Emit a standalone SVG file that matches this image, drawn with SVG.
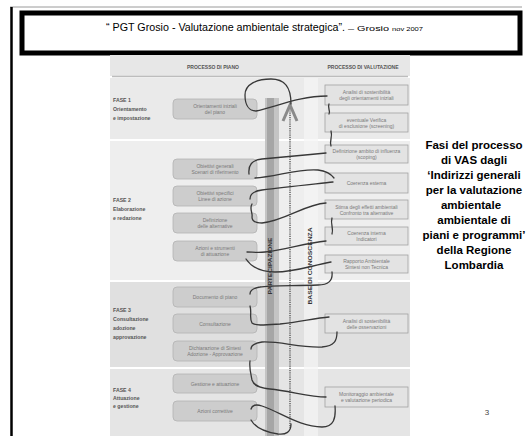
<svg xmlns="http://www.w3.org/2000/svg" width="528" height="436" viewBox="0 0 528 436">
<style>
.lb{fill:#cdcdcd;stroke:#b2b2b2;stroke-width:0.8}
.rb{fill:#e3e3e3;stroke:#a2a2a2;stroke-width:0.8}
.bt{font-family:"Liberation Sans",Arial,sans-serif;font-size:5px;fill:#7a7a7a;text-anchor:middle}
.ph{font-family:"Liberation Sans",Arial,sans-serif;font-size:5.2px;font-weight:bold;fill:#555}
.hd{font-family:"Liberation Sans",Arial,sans-serif;font-size:5px;font-weight:bold;fill:#555;text-anchor:middle}
.vt{font-family:"Liberation Sans",Arial,sans-serif;font-size:5px;font-weight:bold;fill:#333;text-anchor:middle}
.th{fill:none;stroke:#383838;stroke-width:1.3;stroke-linecap:round}
.side{font-family:"Liberation Sans",Arial,sans-serif;font-size:11.5px;font-weight:bold;fill:#000;text-anchor:middle}
</style>
<rect width="528" height="436" fill="#fff"/>
<!-- page frame -->
<line x1="10" y1="7" x2="522" y2="7" stroke="#9a9a9a" stroke-width="1"/>
<line x1="11.5" y1="7" x2="11.5" y2="436" stroke="#000" stroke-width="2.5"/>
<rect x="22" y="13" width="498" height="40" fill="#fff" stroke="#000" stroke-width="5"/>
<text x="106" y="31" font-family="'Liberation Sans',Arial,sans-serif" font-size="10" fill="#000" textLength="239" lengthAdjust="spacingAndGlyphs">“ PGT Grosio - Valutazione ambientale strategica”.</text>
<text x="348" y="31" font-family="'Liberation Sans',Arial,sans-serif" font-size="8" fill="#000" textLength="41" lengthAdjust="spacingAndGlyphs">– Grosio</text>
<text x="392" y="31" font-family="'Liberation Sans',Arial,sans-serif" font-size="5.5" fill="#000" textLength="31" lengthAdjust="spacingAndGlyphs">nov 2007</text>

<!-- picture background -->
<g id="background">
<rect x="110" y="55" width="300" height="21" fill="#e7e7e7"/>
<line x1="112" y1="76.5" x2="408" y2="76.5" stroke="#bdbdbd" stroke-width="1.5"/>
<rect x="110" y="78" width="300" height="61" fill="#eaeaea"/>
<rect x="110" y="141" width="300" height="139" fill="#eeeeee"/>
<rect x="110" y="282" width="300" height="85" fill="#e0e0e0"/>
<rect x="110" y="369" width="300" height="67" fill="#e5e5e5"/>
<rect x="304" y="78" width="14" height="358" fill="#f5f5f5" opacity="0.7"/>
<rect x="265" y="98" width="14" height="338" fill="#c4c4c4"/>
<rect x="267" y="98" width="7" height="338" fill="#a6a6a6"/>
<text class="hd" x="213" y="69">PROCESSO DI PIANO</text>
<text class="hd" x="363" y="69">PROCESSO DI VALUTAZIONE</text>
</g>

<!-- phase labels -->
<g id="fase1"><text class="ph" x="113" y="102">FASE 1</text><text class="ph" x="113" y="111">Orientamento</text><text class="ph" x="113" y="120">e impostazione</text></g>
<g id="fase2"><text class="ph" x="113" y="202">FASE 2</text><text class="ph" x="113" y="211">Elaborazione</text><text class="ph" x="113" y="220">e redazione</text></g>
<g id="fase3"><text class="ph" x="113" y="312">FASE 3</text><text class="ph" x="113" y="321">Consultazione</text><text class="ph" x="113" y="330">adozione</text><text class="ph" x="113" y="339">approvazione</text></g>
<g id="fase4"><text class="ph" x="113" y="392">FASE 4</text><text class="ph" x="113" y="400">Attuazione</text><text class="ph" x="113" y="408">e gestione</text></g>

<!-- central axes -->
<g id="partecipazione"><text class="vt" transform="translate(272.3,266) rotate(-90)" textLength="57" lengthAdjust="spacingAndGlyphs">PARTECIPAZIONE</text></g>
<g id="base-conoscenza">
<line x1="290" y1="106" x2="290" y2="428" stroke="#6a6a6a" stroke-width="1.6" stroke-dasharray="1.2 1"/>
<polyline points="283,121 290,105 297,121" fill="none" stroke="#8a8a8a" stroke-width="3"/>
<text class="vt" transform="translate(312.3,266) rotate(-90)" textLength="77" lengthAdjust="spacingAndGlyphs">BASE DI CONOSCENZA</text>
</g>

<!-- plan boxes -->
<g id="orientamenti"><rect class="lb" x="173" y="99" width="84" height="20" rx="4"/><text class="bt" x="215" y="108">Orientamenti iniziali</text><text class="bt" x="215" y="114">del piano</text></g>
<g id="obiettivi-generali"><rect class="lb" x="173" y="159" width="84" height="20" rx="4"/><text class="bt" x="215" y="168">Obiettivi generali</text><text class="bt" x="215" y="174">Scenari di riferimento</text></g>
<g id="obiettivi-specifici"><rect class="lb" x="173" y="186" width="84" height="20" rx="4"/><text class="bt" x="215" y="195">Obiettivi specifici</text><text class="bt" x="215" y="201">Linee di azione</text></g>
<g id="definizione"><rect class="lb" x="173" y="213" width="84" height="20" rx="4"/><text class="bt" x="215" y="222">Definizione</text><text class="bt" x="215" y="228">delle alternative</text></g>
<g id="azioni-strumenti"><rect class="lb" x="173" y="241" width="84" height="20" rx="4"/><text class="bt" x="215" y="250">Azioni e strumenti</text><text class="bt" x="215" y="256">di attuazione</text></g>
<g id="documento"><rect class="lb" x="173" y="287" width="84" height="20" rx="4"/><text class="bt" x="215" y="299">Documento di piano</text></g>
<g id="consultazione"><rect class="lb" x="173" y="314" width="84" height="19" rx="4"/><text class="bt" x="215" y="325.5">Consultazione</text></g>
<g id="dichiarazione"><rect class="lb" x="173" y="341" width="84" height="20" rx="4"/><text class="bt" x="215" y="350">Dichiarazione di Sintesi</text><text class="bt" x="215" y="356">Adozione - Approvazione</text></g>
<g id="gestione"><rect class="lb" x="173" y="374" width="84" height="19" rx="4"/><text class="bt" x="215" y="385.5">Gestione e attuazione</text></g>
<g id="azioni-correttive"><rect class="lb" x="173" y="401" width="84" height="20" rx="4"/><text class="bt" x="215" y="413">Azioni correttive</text></g>

<!-- evaluation boxes -->
<g id="analisi-orientamenti"><rect class="rb" x="325" y="85" width="83" height="20"/><text class="bt" x="366.5" y="94">Analisi di sostenibilità</text><text class="bt" x="366.5" y="100">degli orientamenti iniziali</text></g>
<g id="verifica"><rect class="rb" x="325" y="113" width="83" height="19"/><text class="bt" x="366.5" y="121.5">eventuale Verifica</text><text class="bt" x="366.5" y="127.5">di esclusione (screening)</text></g>
<g id="scoping"><rect class="rb" x="325" y="145" width="83" height="18"/><text class="bt" x="366.5" y="153">Definizione ambito di influenza</text><text class="bt" x="366.5" y="159">(scoping)</text></g>
<g id="coerenza-esterna"><rect class="rb" x="325" y="173" width="83" height="20"/><text class="bt" x="366.5" y="185">Coerenza esterna</text></g>
<g id="stima-effetti"><rect class="rb" x="325" y="200" width="83" height="19"/><text class="bt" x="366.5" y="208.5">Stima degli effetti ambientali</text><text class="bt" x="366.5" y="214.5">Confronto tra alternative</text></g>
<g id="coerenza-interna"><rect class="rb" x="325" y="227" width="83" height="18"/><text class="bt" x="366.5" y="235">Coerenza interna</text><text class="bt" x="366.5" y="241">Indicatori</text></g>
<g id="rapporto"><rect class="rb" x="325" y="255" width="83" height="18"/><text class="bt" x="366.5" y="263">Rapporto Ambientale</text><text class="bt" x="366.5" y="269">Sintesi non Tecnica</text></g>
<g id="analisi-osservazioni"><rect class="rb" x="325" y="314" width="83" height="19"/><text class="bt" x="366.5" y="322.5">Analisi di sostenibilità</text><text class="bt" x="366.5" y="328.5">delle osservazioni</text></g>
<g id="monitoraggio"><rect class="rb" x="325" y="387" width="83" height="20"/><text class="bt" x="366.5" y="396">Monitoraggio ambientale</text><text class="bt" x="366.5" y="402">e valutazione periodica</text></g>

<!-- connectors (thread) -->
<g id="connectors">
<path class="th" d="M291,104 C291,86 284,79 271,79 C257,79 245,84 245,95 C245,105 249,111 256,111 C275,107 300,96 327,96"/>
<path class="th" d="M329,104 C327,108 331,111 329,114"/>
<path class="th" d="M331,131 C333,137 329,141 331,146"/>
<path class="th" d="M326,153 C305,155 285,157 262,159 C252,160 248,165 249,174"/>
<path class="th" d="M255,178 C275,177 300,168 318,170 C326,171 331,174 334,178"/>
<path class="th" d="M333,182 C315,184 285,187 262,190 C254,191 250,194 250,199"/>
<path class="th" d="M252,204 C249,209 253,213 252,217 C252,222 256,223 262,223 C285,221 305,204 326,203"/>
<path class="th" d="M332,218 C330,224 334,228 332,234"/>
<path class="th" d="M326,241 C305,243 285,250 265,252 C258,253 252,252 247,252"/>
<path class="th" d="M246,259 C252,268 262,272 275,272 C295,272 310,266 331,262"/>
<path class="th" d="M332,272 C333,281 328,285 318,285 C295,286 270,285 260,287 C254,288 250,290 250,294"/>
<path class="th" d="M250,306 C252,313 249,318 252,323 C255,326 265,325 280,324 C300,322 315,318 329,317"/>
<path class="th" d="M337,332 C337,340 335,346 322,347 C300,348 280,341 262,342 C255,343 251,345 251,349"/>
<path class="th" d="M250,361 C249,368 251,375 252,380 C254,386 260,388 270,389 C290,391 310,397 326,397"/>
<path class="th" d="M335,406 C336,418 334,427 322,427 C300,427 280,412 262,406 C256,404 252,405 251,409"/>
<path class="th" d="M251,420 C255,427 265,432 278,434 C286,435 291,432 291,424"/>
</g>

<!-- side caption -->
<g id="caption">
<text class="side" x="474" y="149">Fasi del processo</text>
<text class="side" x="474" y="164">di VAS dagli</text>
<text class="side" x="474" y="179">‘Indirizzi generali</text>
<text class="side" x="474" y="194">per la valutazione</text>
<text class="side" x="471" y="209">ambientale</text>
<text class="side" x="474" y="224">ambientale di</text>
<text class="side" x="474" y="239">piani e programmi’</text>
<text class="side" x="474" y="254">della Regione</text>
<text class="side" x="474" y="269">Lombardia</text>
</g>
<text x="487" y="415" font-family="'Liberation Sans',Arial,sans-serif" font-size="8" fill="#444" text-anchor="middle">3</text>
</svg>
